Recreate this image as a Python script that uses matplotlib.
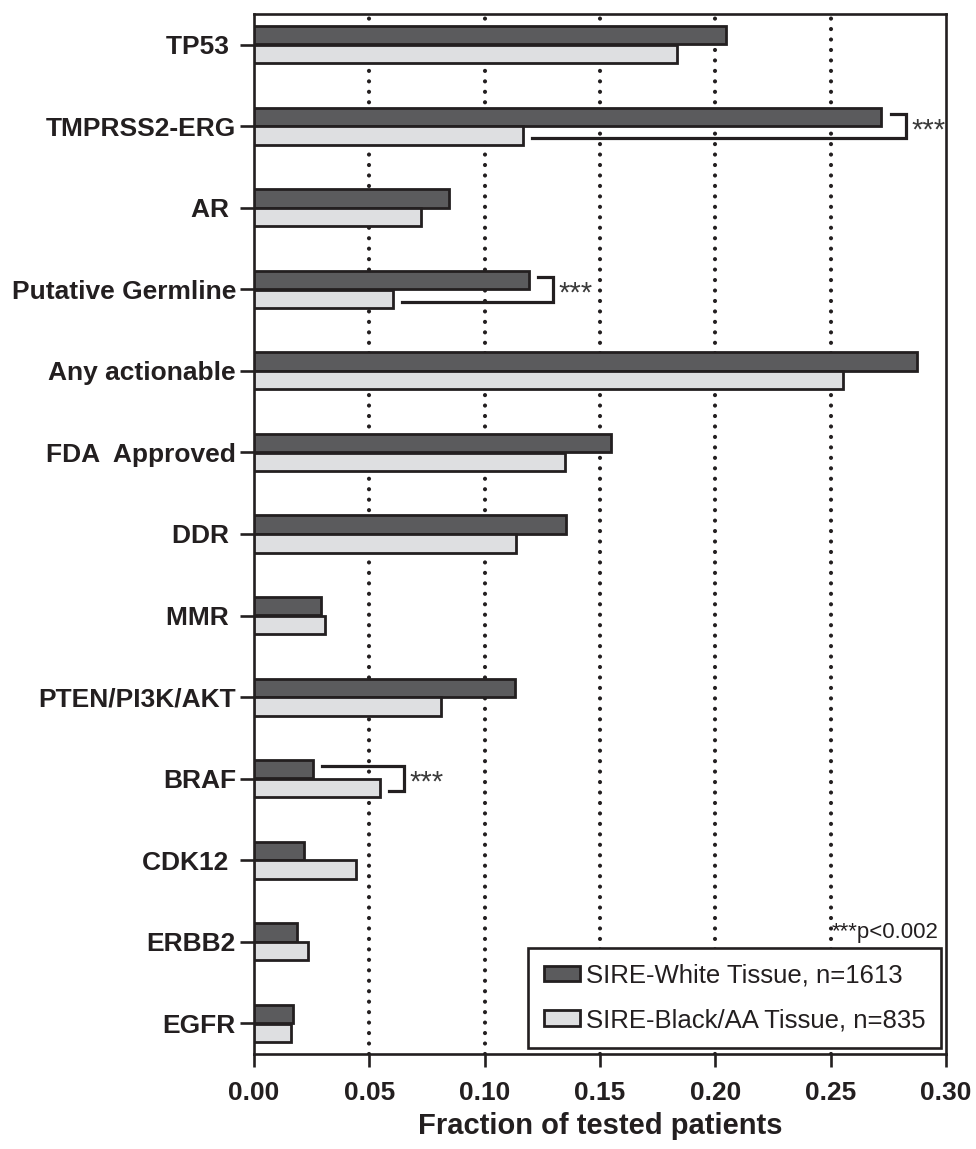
import numpy as np
import matplotlib
matplotlib.use('Agg')
import matplotlib.pyplot as plt

plt.rcParams['font.family'] = ['Liberation Sans', 'DejaVu Sans']

# data, top to bottom
categories = ['TP53 ', 'TMPRSS2-ERG', 'AR ', 'Putative Germline', 'Any actionable',
              'FDA  Approved', 'DDR ', 'MMR ', 'PTEN/PI3K/AKT', 'BRAF', 'CDK12 ',
              'ERBB2', 'EGFR']
white_vals = [0.2046, 0.2720, 0.0845, 0.1192, 0.2875, 0.1548, 0.1353, 0.0290,
              0.1132, 0.0256, 0.0217, 0.0186, 0.0169]
black_vals = [0.1834, 0.1166, 0.0724, 0.0603, 0.2554, 0.1348, 0.1136, 0.0308,
              0.0810, 0.0546, 0.0442, 0.0234, 0.0160]
series_labels = ['SIRE-White Tissue, n=1613', 'SIRE-Black/AA Tissue, n=835']
sig_rows = [1, 3, 9]   # rows with *** brackets
xticks = [0.00, 0.05, 0.10, 0.15, 0.20, 0.25, 0.30]

ink = '#231f20'
dark = '#5b5b5d'
light = '#dedfe1'

fig = plt.figure(figsize=(9.76, 11.49), dpi=100)
ax = fig.add_axes([0.2602, 0.0827, 0.9693 - 0.2602, 0.9878 - 0.0827])

y = np.arange(len(categories))
h = 0.225
off = 0.115
ax.barh(y - off, white_vals, height=h, color=dark, edgecolor=ink, linewidth=2.0,
        label=series_labels[0], zorder=3)
ax.barh(y + off, black_vals, height=h, color=light, edgecolor=ink, linewidth=2.0,
        label=series_labels[1], zorder=3)

ax.set_xlim(0, 0.30)
ax.set_ylim(len(categories) - 1 + 0.375, -0.375)

# dotted grid
for xv in xticks[1:-1]:
    ax.axvline(xv, color=ink, linewidth=3.0, linestyle=(0, (0.01, 2.5)),
               dash_capstyle='round', zorder=1)

# significance brackets
for r in sig_rows:
    a = white_vals[r]
    b = black_vals[r]
    xv = max(a, b) + 0.0105
    y1 = r - 0.15
    y2 = r + 0.15
    ax.plot([a + 0.004, xv, xv, b + 0.004], [y1, y1, y2, y2], color=ink,
            linewidth=2.3, solid_joinstyle='miter', zorder=4)
    ax.text(xv + 0.0025, r + 0.05, '***', fontsize=21, color='#3a3a3a',
            ha='left', va='center', zorder=4)

ax.text(0.2505, 10.88, '***p<0.002', fontsize=16, color=ink, ha='left', va='center')

ax.set_xticks(xticks)
ax.set_xticklabels(['%.2f' % v for v in xticks], fontsize=19, fontweight='bold', color=ink)
ax.set_yticks(y)
ax.set_yticklabels(categories, fontsize=19, fontweight='bold', color=ink)
ax.tick_params(axis='x', length=9.5, width=1.9, color=ink, pad=10, top=False)
ax.tick_params(axis='y', length=10, width=1.9, color=ink, pad=3, right=False)

for s in ax.spines.values():
    s.set_linewidth(1.9)
    s.set_color(ink)

ax.set_xlabel('Fraction of tested patients', fontsize=21, fontweight='bold',
              color=ink, labelpad=5)

leg = ax.legend(loc='lower right', bbox_to_anchor=(0.993, 0.006), borderaxespad=0,
                fontsize=18.5, frameon=True, fancybox=False, edgecolor=ink,
                handlelength=1.4, handleheight=0.55, handletextpad=0.25,
                labelspacing=0.8, borderpad=0.6)
leg.get_frame().set_linewidth(1.9)
leg.get_frame().set_facecolor('white')
leg.get_frame().set_alpha(1)
leg.set_zorder(5)
for t in leg.get_texts():
    t.set_color(ink)

fig.savefig('out.png', dpi=100)
